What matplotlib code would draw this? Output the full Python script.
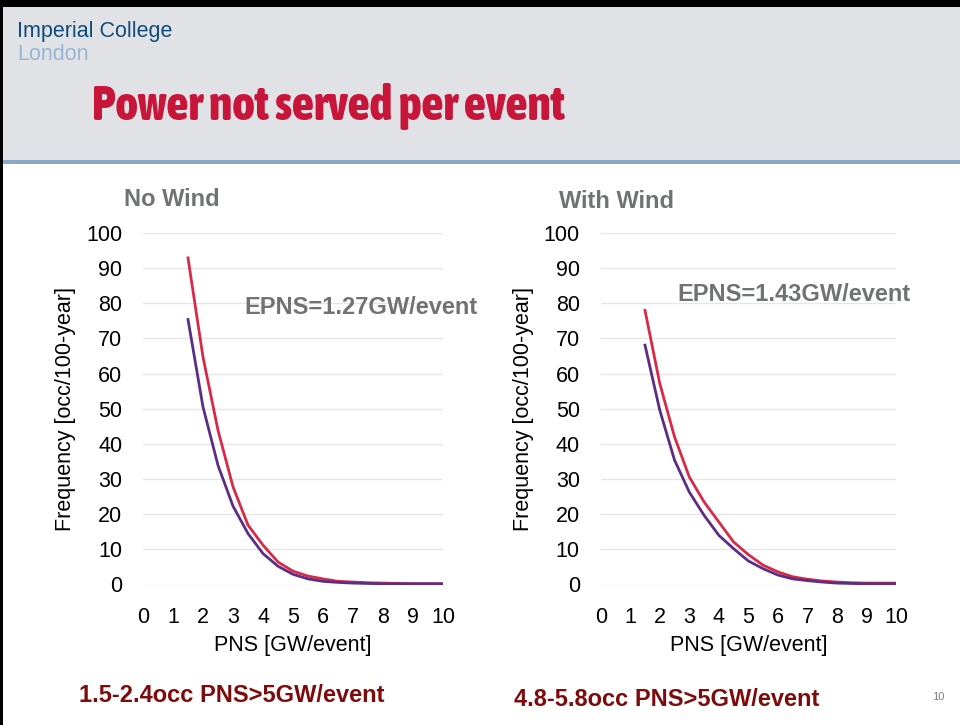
import matplotlib
matplotlib.use("Agg")
import matplotlib.pyplot as plt
from matplotlib.patches import Rectangle
from matplotlib import font_manager

# ---------------- data ----------------
pns = [1.5, 2.0, 2.5, 3.0, 3.5, 4.0, 4.5, 5.0, 5.5, 6.0, 6.5, 7.0, 7.5, 8.0, 8.5, 9.0, 9.5, 10.0]

nowind_red = [92.9, 64.7, 43.9, 27.8, 16.9, 11.2, 6.4, 3.8, 2.4, 1.6, 0.9, 0.7, 0.5, 0.4, 0.3, 0.2, 0.2, 0.2]
nowind_purple = [75.4, 50.5, 33.9, 22.3, 14.5, 8.8, 5.2, 2.9, 1.6, 0.9, 0.6, 0.4, 0.3, 0.2, 0.2, 0.2, 0.2, 0.2]

wind_red = [78.0, 57.2, 42.0, 30.6, 23.5, 17.8, 12.1, 8.5, 5.5, 3.6, 2.2, 1.5, 1.0, 0.7, 0.5, 0.4, 0.4, 0.4]
wind_purple = [68.1, 49.6, 35.4, 26.3, 19.7, 14.0, 10.2, 6.7, 4.5, 2.7, 1.6, 1.1, 0.7, 0.4, 0.3, 0.2, 0.2, 0.2]

x_ticks = list(range(0, 11))
y_ticks = list(range(0, 101, 10))

panel_titles = ["No Wind", "With Wind"]
epns_labels = ["EPNS=1.27GW/event", "EPNS=1.43GW/event"]
footnotes = ["1.5-2.4occ PNS>5GW/event", "4.8-5.8occ PNS>5GW/event"]

RED = "#D72A48"
PURPLE = "#5B2D84"
GREY_TXT = "#707274"

plt.rcParams["font.family"] = ["Liberation Sans", "DejaVu Sans"]

# look for a condensed / narrow family (prefer one with a bold face)
narrow_any, narrow_bold = None, None
for f in font_manager.fontManager.ttflist:
    n = f.name
    if "Narrow" in n or "Condensed" in n:
        if narrow_any is None:
            narrow_any = n
        w = f.weight if isinstance(f.weight, int) else (700 if "bold" in str(f.weight).lower() else 400)
        if w >= 600 and narrow_bold is None:
            narrow_bold = n
title_family = [narrow_bold or narrow_any or "Liberation Sans", "Liberation Sans"]

W, H = 960, 725
fig = plt.figure(figsize=(W / 100, H / 100), dpi=100)
fig.patch.set_facecolor("white")

def fx(px):
    return px / W

def fy(py):
    return 1 - py / H

# header background
fig.add_artist(Rectangle((0, fy(160)), 1, 160 / H, transform=fig.transFigure,
                         facecolor="#E1E2E6", edgecolor="none", zorder=0))
fig.add_artist(Rectangle((0, fy(164)), 1, 4 / H, transform=fig.transFigure,
                         facecolor="#8AA7C4", edgecolor="none", zorder=1))
# black borders top and left
fig.add_artist(Rectangle((0, fy(7)), 1, 7 / H, transform=fig.transFigure,
                         facecolor="black", edgecolor="none", zorder=2))
fig.add_artist(Rectangle((0, 0), 3 / W, 1, transform=fig.transFigure,
                         facecolor="black", edgecolor="none", zorder=2))

# logo
fig.text(fx(17), fy(31), "Imperial College", color="#0F4C7D", fontsize=15.5,
         va="center", ha="left")
fig.text(fx(17), fy(54), "London", color="#98B5D5", fontsize=15.5,
         va="center", ha="left")

# slide title
fig.text(fx(92), fy(107), "Power not served per event", color="#C8153A",
         fontsize=34.5, fontweight="heavy", family=title_family,
         va="center", ha="left")

def make_panel(left_px, right_px, red, purple, title, epns, title_xy, epns_xy):
    top_px, bot_px = 233, 584.5
    ax = fig.add_axes([fx(left_px), fy(bot_px), fx(right_px - left_px), (bot_px - top_px) / H])
    ax.plot(pns, red, color=RED, lw=2.0, zorder=3)
    ax.plot(pns, purple, color=PURPLE, lw=2.0, zorder=3)
    ax.set_xlim(0, 10)
    ax.set_ylim(0, 100)
    ax.set_xticks(x_ticks)
    ax.set_yticks(y_ticks)
    ax.grid(axis="y", color="#E6E6E6", lw=1)
    ax.set_axisbelow(True)
    for s in ax.spines.values():
        s.set_visible(False)
    ax.tick_params(axis="y", length=0, labelsize=15.5, colors="black", pad=15)
    ax.tick_params(axis="x", length=0, labelsize=15.5, colors="black", pad=16)
    ax.set_xlabel("PNS [GW/event]", fontsize=15.5, labelpad=5)
    ax.set_ylabel("Frequency [occ/100-year]", fontsize=15.5, labelpad=7)
    fig.text(fx(title_xy[0]), fy(title_xy[1]), title, color=GREY_TXT, fontsize=17,
             fontweight="bold", ha="left", va="center")
    fig.text(fx(epns_xy[0]), fy(epns_xy[1]), epns, color=GREY_TXT, fontsize=17,
             fontweight="bold", ha="left", va="center")
    return ax

make_panel(143, 443, nowind_red, nowind_purple, panel_titles[0], epns_labels[0],
           (124, 199), (244, 308))
make_panel(600.7, 896, wind_red, wind_purple, panel_titles[1], epns_labels[1],
           (559, 201), (677, 295))

fig.text(fx(79), fy(695), footnotes[0], color="#7E0B0B", fontsize=17,
         fontweight="bold", ha="left", va="center")
fig.text(fx(514), fy(700), footnotes[1], color="#7E0B0B", fontsize=17,
         fontweight="bold", ha="left", va="center")
fig.text(fx(932), fy(697), "10", color="#808080", fontsize=8, ha="left", va="center")

fig.savefig("out.png", dpi=100)
